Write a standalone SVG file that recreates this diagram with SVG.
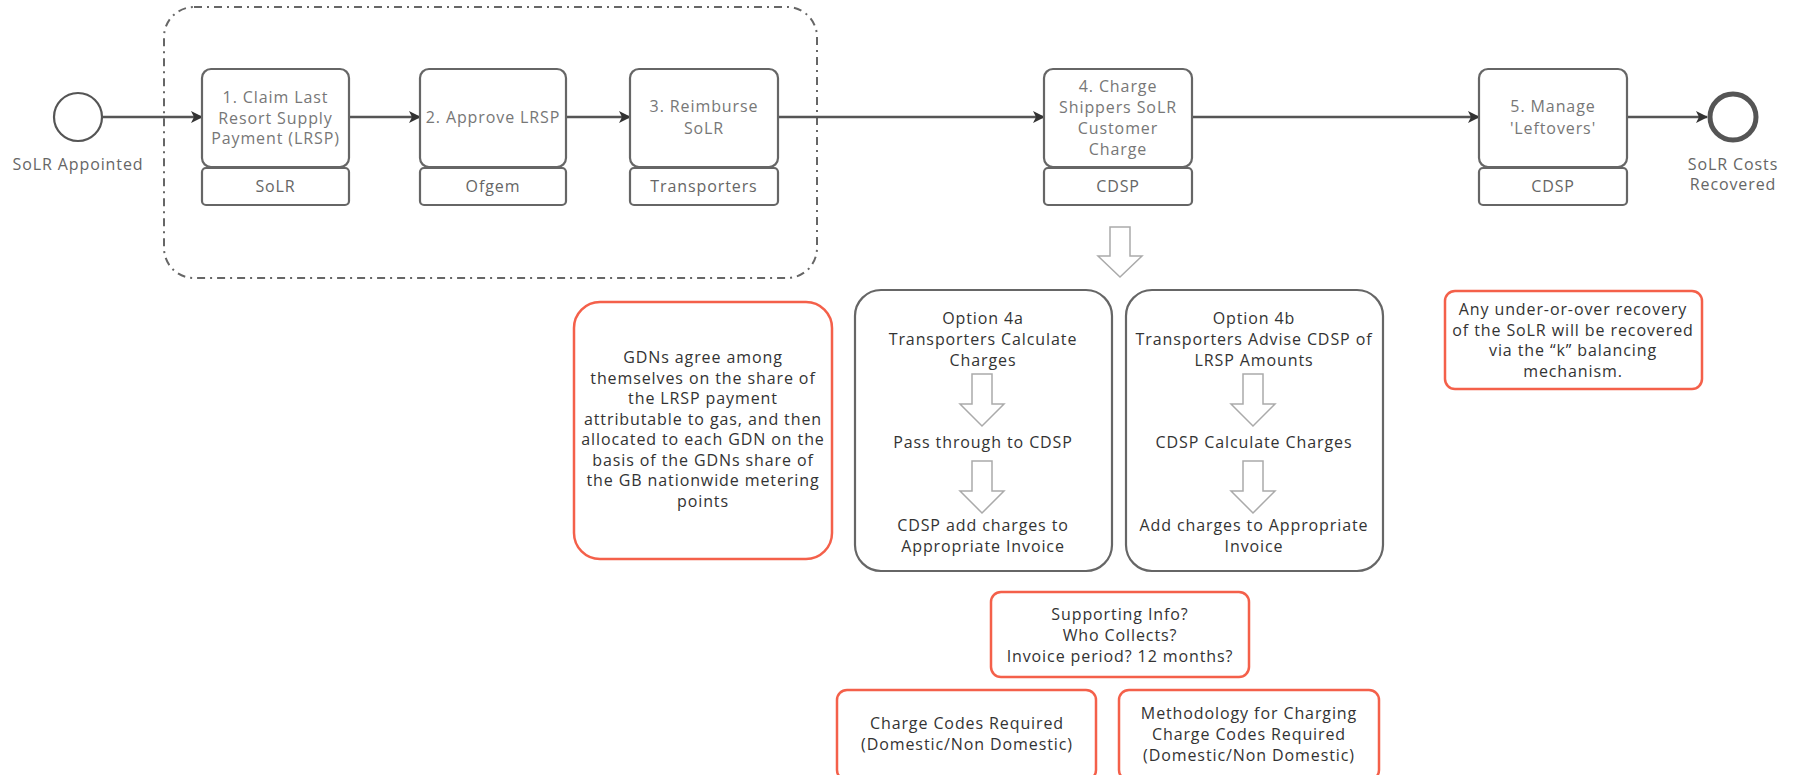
<svg xmlns="http://www.w3.org/2000/svg" width="1794" height="775" viewBox="0 0 1794 775">
<defs>
<style>
text{font-family:"Open Sans","Noto Sans","DejaVu Sans",sans-serif;font-size:16px;text-anchor:middle;dominant-baseline:central;letter-spacing:0.9px}
.task{fill:#fff;stroke:#666;stroke-width:2.2}
.lane{fill:#fff;stroke:#666;stroke-width:2.2}
.tt{fill:#777}
.lt{fill:#666}
.opt{fill:#fff;stroke:#666;stroke-width:2.2}
.red{fill:#fff;stroke:#f4604a;stroke-width:2.5}
.bt{fill:#333}
.conn{stroke:#555;stroke-width:2.5;fill:none;marker-end:url(#ah)}
.hollow{fill:#fff;stroke:#aaa;stroke-width:1.5}
</style>
<marker id="ah" viewBox="0 0 12 12" refX="11" refY="6" markerWidth="12" markerHeight="12" markerUnits="userSpaceOnUse" orient="auto">
<path d="M0,0 L12,6 L0,12 L3,6 Z" fill="#333"/>
</marker>
</defs>
<rect width="1794" height="775" fill="#fff"/>

<g id="group-dashed">
<rect x="164" y="7" width="653" height="271" rx="30" ry="30" fill="none" stroke="#666" stroke-width="2" stroke-dasharray="8 5 2 5"/>
</g>

<g id="connectors">
<line class="conn" x1="103" y1="117" x2="202" y2="117"/>
<line class="conn" x1="349" y1="117" x2="420" y2="117"/>
<line class="conn" x1="566" y1="117" x2="630" y2="117"/>
<line class="conn" x1="778" y1="117" x2="1044" y2="117"/>
<line class="conn" x1="1192" y1="117" x2="1479" y2="117"/>
<line class="conn" x1="1627" y1="117" x2="1707" y2="117"/>
</g>

<g id="start">
<circle cx="78" cy="117" r="24" fill="#fff" stroke="#555" stroke-width="2.2"/>
<text class="lt" x="78" y="164">SoLR Appointed</text>
</g>

<g id="task1">
<rect class="task" x="202" y="69" width="147" height="98" rx="9"/>
<rect class="lane" x="202" y="168" width="147" height="37" rx="4"/>
<text class="tt" x="275.5" y="97">1. Claim Last</text>
<text class="tt" x="275.5" y="118">Resort Supply</text>
<text class="tt" x="275.5" y="138">Payment (LRSP)</text>
<text class="lt" x="275.5" y="186">SoLR</text>
</g>

<g id="task2">
<rect class="task" x="420" y="69" width="146" height="98" rx="9"/>
<rect class="lane" x="420" y="168" width="146" height="37" rx="4"/>
<text class="tt" x="493" y="117">2. Approve LRSP</text>
<text class="lt" x="493" y="186">Ofgem</text>
</g>

<g id="task3">
<rect class="task" x="630" y="69" width="148" height="98" rx="9"/>
<rect class="lane" x="630" y="168" width="148" height="37" rx="4"/>
<text class="tt" x="704" y="106">3. Reimburse</text>
<text class="tt" x="704" y="128">SoLR</text>
<text class="lt" x="704" y="186">Transporters</text>
</g>

<g id="task4">
<rect class="task" x="1044" y="69" width="148" height="98" rx="9"/>
<rect class="lane" x="1044" y="168" width="148" height="37" rx="4"/>
<text class="tt" x="1118" y="86">4. Charge</text>
<text class="tt" x="1118" y="107">Shippers SoLR</text>
<text class="tt" x="1118" y="128">Customer</text>
<text class="tt" x="1118" y="149">Charge</text>
<text class="lt" x="1118" y="186">CDSP</text>
</g>

<g id="task5">
<rect class="task" x="1479" y="69" width="148" height="98" rx="9"/>
<rect class="lane" x="1479" y="168" width="148" height="37" rx="4"/>
<text class="tt" x="1553" y="106">5. Manage</text>
<text class="tt" x="1553" y="128">'Leftovers'</text>
<text class="lt" x="1553" y="186">CDSP</text>
</g>

<g id="end">
<circle cx="1733" cy="117" r="23" fill="#fff" stroke="#555" stroke-width="5"/>
<text class="lt" x="1733" y="164">SoLR Costs</text>
<text class="lt" x="1733" y="184">Recovered</text>
</g>

<g id="big-arrow">
<path class="hollow" d="M1110,227 H1130 V256 H1142 L1120,277 L1098,256 H1110 Z"/>
</g>

<g id="gdn-note">
<rect class="red" x="574" y="302" width="258" height="257" rx="26"/>
<text class="bt" x="703" y="357">GDNs agree among</text>
<text class="bt" x="703" y="378">themselves on the share of</text>
<text class="bt" x="703" y="398">the LRSP payment</text>
<text class="bt" x="703" y="419">attributable to gas, and then</text>
<text class="bt" x="703" y="439">allocated to each GDN on the</text>
<text class="bt" x="703" y="460">basis of the GDNs share of</text>
<text class="bt" x="703" y="480">the GB nationwide metering</text>
<text class="bt" x="703" y="501">points</text>
</g>

<g id="option4a">
<rect class="opt" x="855" y="290" width="257" height="281" rx="26"/>
<text class="bt" x="983" y="318">Option 4a</text>
<text class="bt" x="983" y="339">Transporters Calculate</text>
<text class="bt" x="983" y="360">Charges</text>
<path class="hollow" d="M972,374 H992 V404 H1004 L982,426 L960,404 H972 Z"/>
<text class="bt" x="983" y="442">Pass through to CDSP</text>
<path class="hollow" d="M972,461 H992 V491 H1004 L982,513 L960,491 H972 Z"/>
<text class="bt" x="983" y="525">CDSP add charges to</text>
<text class="bt" x="983" y="546">Appropriate Invoice</text>
</g>

<g id="option4b">
<rect class="opt" x="1126" y="290" width="257" height="281" rx="26"/>
<text class="bt" x="1254" y="318">Option 4b</text>
<text class="bt" x="1254" y="339">Transporters Advise CDSP of</text>
<text class="bt" x="1254" y="360">LRSP Amounts</text>
<path class="hollow" d="M1243,374 H1263 V404 H1275 L1253,426 L1231,404 H1243 Z"/>
<text class="bt" x="1254" y="442">CDSP Calculate Charges</text>
<path class="hollow" d="M1243,461 H1263 V491 H1275 L1253,513 L1231,491 H1243 Z"/>
<text class="bt" x="1254" y="525">Add charges to Appropriate</text>
<text class="bt" x="1254" y="546">Invoice</text>
</g>

<g id="k-note">
<rect class="red" x="1445" y="291" width="257" height="98" rx="10"/>
<text class="bt" x="1573" y="309">Any under-or-over recovery</text>
<text class="bt" x="1573" y="330">of the SoLR will be recovered</text>
<text class="bt" x="1573" y="350">via the “k” balancing</text>
<text class="bt" x="1573" y="371">mechanism.</text>
</g>

<g id="supporting-note">
<rect class="red" x="991" y="592" width="258" height="85" rx="10"/>
<text class="bt" x="1120" y="614">Supporting Info?</text>
<text class="bt" x="1120" y="635">Who Collects?</text>
<text class="bt" x="1120" y="656">Invoice period? 12 months?</text>
</g>

<g id="charge-codes-note">
<rect class="red" x="837" y="690" width="259" height="90" rx="10"/>
<text class="bt" x="967" y="723">Charge Codes Required</text>
<text class="bt" x="967" y="744">(Domestic/Non Domestic)</text>
</g>

<g id="methodology-note">
<rect class="red" x="1119" y="690" width="260" height="90" rx="10"/>
<text class="bt" x="1249" y="713">Methodology for Charging</text>
<text class="bt" x="1249" y="734">Charge Codes Required</text>
<text class="bt" x="1249" y="755">(Domestic/Non Domestic)</text>
</g>
</svg>
